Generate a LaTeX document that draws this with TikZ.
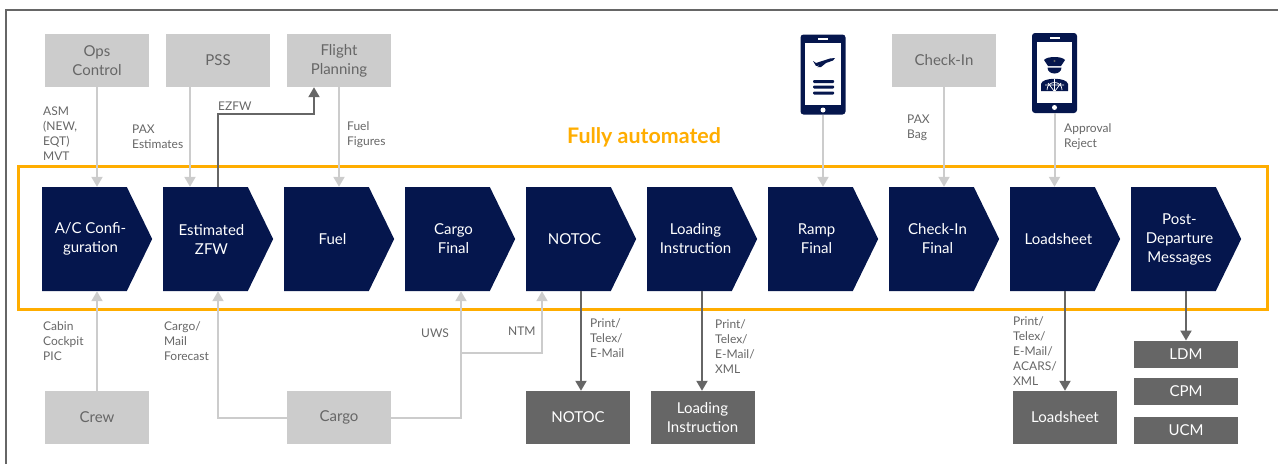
\documentclass[tikz,border=0pt]{standalone}
\usepackage{fontspec}
\setmainfont{Lato}
\usetikzlibrary{shapes.symbols,arrows.meta}
\definecolor{navy}{HTML}{05164D}
\definecolor{lightgrey}{HTML}{CCCCCC}
\definecolor{darkgrey}{HTML}{666666}
\definecolor{amber}{HTML}{FFAD00}
\tikzset{
    step box/.style={signal, signal to=east, signal pointer angle=128, fill=navy,
        minimum width=110pt, minimum height=104pt, inner sep=0pt},
    step text/.style={text=white, xshift=6pt, inner sep=0pt, font=\fontsize{15}{19}\selectfont, align=center},
    source/.style={fill=lightgrey, text=darkgrey, minimum width=104pt, minimum height=53pt,
        inner sep=0pt, font=\fontsize{15}{19}\selectfont, align=center},
    output/.style={fill=darkgrey, text=white, minimum width=104pt, minimum height=53pt,
        inner sep=0pt, font=\fontsize{15}{19}\selectfont, align=center},
    message/.style={output, minimum height=27.5pt},
    note/.style={text=darkgrey, font=\fontsize{12}{15}\selectfont, align=left, inner sep=0pt, anchor=west},
    feed/.style={draw=lightgrey, line width=2pt, -{Triangle[length=10pt,width=11pt]}},
    send/.style={draw=darkgrey, line width=2pt, -{Triangle[length=10pt,width=11pt]}},
    phone/.style={fill=navy, rounded corners=3pt, minimum width=45pt, minimum height=80pt, inner sep=0pt}
}
\begin{document}
\begin{tikzpicture}[x=1pt,y=-1pt]
        \useasboundingbox (0,0) rectangle (1278,464);
        % frame
        \draw[darkgrey, line width=1.5pt] (6,464) -- (6,10) -- (1278,10);
        \draw[amber, line width=3pt] (18,166) rectangle (1267,309);

        % process steps
        \node[step box, label={[step text]center:A/C Confi-\\guration}] (acconfig) at (84.5,239) {};
        \node[step box, label={[step text]center:Estimated\\ZFW}] (estzfw) at (205.5,239) {};
        \node[step box, label={[step text]center:Fuel}] (fuel) at (326.5,239) {};
        \node[step box, label={[step text]center:Cargo\\Final}] (cargofinal) at (447.5,239) {};
        \node[step box, label={[step text]center:NOTOC}] (notoc) at (568.5,239) {};
        \node[step box, label={[step text]center:Loading\\Instruction}] (loadinstr) at (689.5,239) {};
        \node[step box, label={[step text]center:Ramp\\Final}] (rampfinal) at (810.5,239) {};
        \node[step box, label={[step text]center:Check-In\\Final}] (checkinfinal) at (931.5,239) {};
        \node[step box, label={[step text]center:Loadsheet}] (loadsheet) at (1052.5,239) {};
        \node[step box, label={[step text]center:Post-\\Departure\\Messages}] (postdep) at (1173.5,239) {};

        % sources
        \node[source] (opsctl) at (97,60.5) {Ops\\Control};
        \node[source] (pss) at (218,60.5) {PSS};
        \node[source] (flightplan) at (339,60.5) {Flight\\Planning};
        \node[source] (checkin) at (944,60.5) {Check-In};
        \node[source] (crew) at (97,417.5) {Crew};
        \node[source] (cargo) at (339,417.5) {Cargo};

        % outputs
        \node[output] (notocout) at (578,417.5) {NOTOC};
        \node[output] (loadinstrout) at (702.5,417.5) {Loading\\Instruction};
        \node[output] (loadsheetout) at (1065,417.5) {Loadsheet};
        \node[message] (ldm) at (1186,354.5) {LDM};
        \node[message] (cpm) at (1186,391.5) {CPM};
        \node[message] (ucm) at (1186,430.5) {UCM};

        % phones
        \node[phone] (rampphone) at (823,74.5) {};
        \fill[white] (805,43) rectangle (841,105);
        \fill[white] (823,110) circle (2.5pt);
        \fill[white] (818,38) rectangle (828,40);
        \fill[navy] (813,61) -- (816,63) -- (830,58.5) -- (835,58) -- (833,60.5) -- (826,63) -- (821,67) -- (817,67) -- (820,65.5) -- (816,66) -- cycle;
        \fill[navy, rounded corners=1pt] (813,80) rectangle (834,83);
        \fill[navy, rounded corners=1pt] (813,85.5) rectangle (834,88.5);
        \fill[navy, rounded corners=1pt] (813,91.5) rectangle (834,94.5);

        \node[phone] (approvalphone) at (1054.5,73) {};
        \fill[white] (1037,42) rectangle (1072,103);
        \fill[white] (1054.5,107.5) circle (2.5pt);
        \fill[white] (1049.5,36.5) rectangle (1059.5,38.5);
        \fill[navy] (1044,60) .. controls (1047,56) and (1062,56) .. (1065,60) -- (1061,66) -- (1048,66) -- cycle;
        \fill[darkgrey] (1054.5,61) circle (1.2pt);
        \fill[navy] (1047.5,67.5) -- (1061.5,67.5) .. controls (1061.5,75.5) and (1047.5,75.5) .. (1047.5,67.5);
        \fill[navy] (1041,91) -- (1041,84) .. controls (1042,77) and (1067,77) .. (1068,84) -- (1068,91) -- cycle;
        \draw[white, line width=0.7pt] (1047,90) .. controls (1047,80) and (1062,80) .. (1062,90);
        \draw[white, line width=0.7pt] (1048,83) -- (1054,91) (1061,83) -- (1055,91) (1054.5,79) -- (1054.5,91) (1045,85) -- (1064,85);

        % inputs
        \draw[feed] (opsctl.south) -- (opsctl.south |- acconfig.north);
        \draw[feed] ([xshift=-28pt]pss.south) coordinate(pssfoot) -- (pssfoot |- estzfw.north);
        \draw[feed] (flightplan.south) -- (flightplan.south |- fuel.north);
        \draw[feed] (rampphone.south) -- (rampphone.south |- rampfinal.north);
        \draw[feed] (checkin.south) -- (checkin.south |- checkinfinal.north);
        \draw[feed] (approvalphone.south) -- (approvalphone.south |- loadsheet.north);
        \draw[feed] (crew.north) -- (crew.north |- acconfig.south);
        \draw[feed] (cargo.west) -| ([xshift=12.5pt]estzfw.south);
        \draw[feed] (cargo.east) -| ([xshift=13.5pt]cargofinal.south) coordinate(uwsfoot);
        \draw[feed] (uwsfoot |- 0,353) -| ([xshift=-26.5pt]notoc.south);

        % outputs
        \draw[send] ([xshift=12.5pt]estzfw.north) |- ([xshift=-25pt,yshift=-27pt]flightplan.south) -- ([xshift=-25pt]flightplan.south);
        \draw[send] ([xshift=12.5pt]notoc.south) coordinate(notocfoot) -- (notocfoot |- notocout.north);
        \draw[send] ([xshift=12.5pt]loadinstr.south) coordinate(instrfoot) -- (instrfoot |- loadinstrout.north);
        \draw[send] ([xshift=12.5pt]loadsheet.south) coordinate(sheetfoot) -- (sheetfoot |- loadsheetout.north);
        \draw[send] ([xshift=12.5pt]postdep.south) coordinate(postfoot) -- (postfoot |- ldm.north);

        % labels
        \node[note] at (43,134) {ASM\\(NEW,\\EQT)\\MVT};
        \node[note] at (132,136.5) {PAX\\Estimates};
        \node[note, anchor=south west] at (218,111) {EZFW};
        \node[note] at (347,135) {Fuel\\Figures};
        \node[note] at (907,127.5) {PAX\\Bag};
        \node[note] at (1064,137) {Approval\\Reject};
        \node[note] at (43,341) {Cabin\\Cockpit\\PIC};
        \node[note] at (164,341) {Cargo/\\Mail\\Forecast};
        \node[note] at (421,333) {UWS};
        \node[note] at (508,331) {NTM};
        \node[note] at (590,338) {Print/\\Telex/\\E-Mail};
        \node[note] at (715,346.5) {Print/\\Telex/\\E-Mail/\\XML};
        \node[note] at (1013,351) {Print/\\Telex/\\E-Mail/\\ACARS/\\XML};
        \node[text=amber, font=\fontsize{21.4}{25}\selectfont\bfseries, inner sep=0pt] (automated) at (644,137) {Fully automated};
\end{tikzpicture}
\end{document}
